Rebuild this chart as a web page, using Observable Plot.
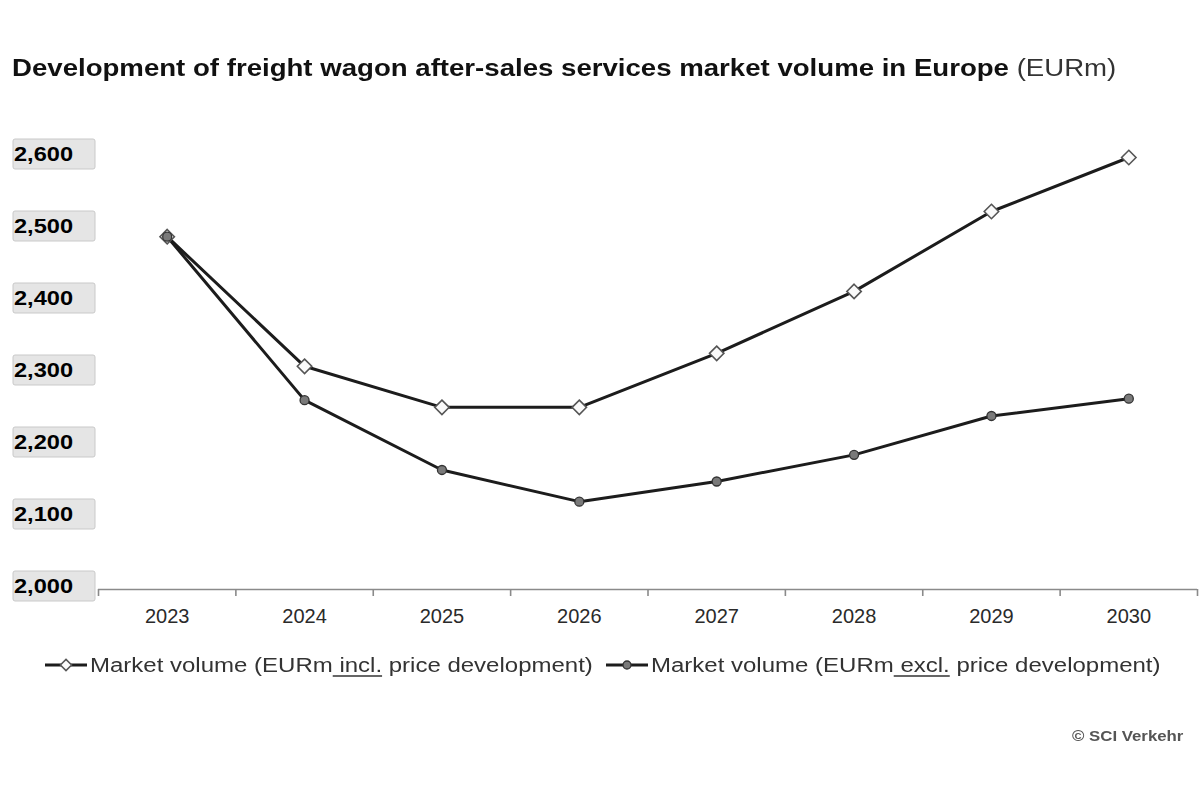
<!DOCTYPE html>
<html>
<head>
<meta charset="utf-8">
<script src="https://cdn.jsdelivr.net/npm/d3@7"></script>
<script src="https://cdn.jsdelivr.net/npm/@observablehq/plot@0.6"></script>
<style>
  html, body { margin: 0; padding: 0; background: #fff; }
  #page { position: relative; width: 1200px; height: 800px; overflow: hidden; font-family: "Liberation Sans", Arial, Helvetica, sans-serif; }
  #title { position: absolute; left: 12px; top: 55px; font-size: 23px; line-height: 26px; color: #111; white-space: nowrap; transform: scaleX(1.2); transform-origin: 0 50%; }
  #title b { font-weight: bold; }
  #title span { font-weight: normal; color: #333; }
  #chart { position: absolute; left: 0; top: 100px; }
  .legend-item { position: absolute; top: 652px; height: 26px; display: flex; align-items: center; font-size: 20px; color: #333; white-space: nowrap; }
  .legend-item .lab { display: inline-block; transform: scaleX(1.2); transform-origin: 0 50%; }
  .legend-item u { text-decoration-color: #666; text-decoration-thickness: 2px; text-underline-offset: 3px; }
  #footer { position: absolute; left: 1072px; top: 727px; font-size: 15px; color: #555; font-weight: bold; white-space: nowrap; transform: scaleX(1.12); transform-origin: 0 50%; filter: blur(0.4px); }
</style>
</head>
<body>
<div id="page">
  <div id="title"><b>Development of freight wagon after-sales services market volume in Europe</b> <span>(EURm)</span></div>
  <div id="chart"></div>
  <div class="legend-item" id="leg1" style="left:44px"></div>
  <div class="legend-item" id="leg2" style="left:605px"></div>
  <div id="footer">© SCI Verkehr</div>
</div>
<script>
// Years on the horizontal axis
const years = [2023, 2024, 2025, 2026, 2027, 2028, 2029, 2030];
// Market volume including price development (EURm)
const inclValues = [2490, 2310, 2253, 2253, 2328, 2414, 2525, 2600];
// Market volume excluding price development (EURm)
const exclValues = [2490, 2263, 2166, 2122, 2150, 2187, 2241, 2265];
// Value axis ticks
const yTicks = [2000, 2100, 2200, 2300, 2400, 2500, 2600];

const incl = years.map((year, i) => ({year, value: inclValues[i]}));
const excl = years.map((year, i) => ({year, value: exclValues[i]}));
// Category boundaries: the axis ticks sit between the years
const boundaries = [years[0] - 0.5, ...years.map(y => y + 0.5)];

const lineColor = "#1c1c1c";

// Boxed labels for the value axis, placed with the y scale
function yLabelBoxes(index, scales) {
  const g = d3.create("svg:g");
  for (const v of yTicks) {
    const cy = scales.y(v) - 3;
    g.append("rect")
      .attr("x", 13).attr("y", cy - 15).attr("width", 82).attr("height", 30)
      .attr("rx", 2)
      .attr("fill", "#e5e5e5").attr("stroke", "#c9c9c9").attr("stroke-width", 1);
    g.append("text")
      .attr("transform", `translate(14,${cy}) scale(1.18,1)`)
      .attr("dy", "0.36em")
      .attr("text-anchor", "start")
      .attr("font-size", 20).attr("font-weight", "bold")
      .attr("fill", "#000")
      .text(d3.format(",")(v));
  }
  return g.node();
}

const chart = Plot.plot({
  width: 1200,
  height: 540,
  marginLeft: 98,
  marginRight: 3,
  marginTop: 57,
  marginBottom: 51,
  style: {fontFamily: "Liberation Sans, Arial, sans-serif", background: "transparent", overflow: "visible"},
  x: {domain: [years[0] - 0.5, years[years.length - 1] + 0.5], axis: null},
  y: {domain: [2000, 2600], axis: null},
  marks: [
    Plot.ruleY([2000], {stroke: "#8a8a8a", strokeWidth: 1.6}),
    Plot.axisX(boundaries, {tickSize: 7, tickFormat: () => "", label: null, stroke: "#8a8a8a", strokeWidth: 1.6}),
    Plot.axisX(years, {tickSize: 0, tickPadding: 19, tickFormat: d => String(d), label: null, fontSize: 20, fill: "#2a2a2a", letterSpacing: "1.6px"}),
    yLabelBoxes,
    Plot.line(incl, {x: "year", y: "value", stroke: lineColor, strokeWidth: 3}),
    Plot.line(excl, {x: "year", y: "value", stroke: lineColor, strokeWidth: 3}),
    Plot.dot(incl, {x: "year", y: "value", symbol: "diamond2", r: 6.5, fill: "#fafafa", stroke: "#555", strokeWidth: 1.6}),
    Plot.dot(excl, {x: "year", y: "value", symbol: "circle", r: 4.5, fill: "#7a7a7a", stroke: "#333", strokeWidth: 1.3})
  ]
});
document.getElementById("chart").appendChild(chart);

// Legend entries: a short line with the series marker, then the label
function legendSymbol(kind) {
  const svg = d3.create("svg").attr("width", 44).attr("height", 16).style("margin-right", "2px");
  svg.append("line").attr("x1", 1).attr("x2", 43).attr("y1", 8).attr("y2", 8)
    .attr("stroke", lineColor).attr("stroke-width", 3);
  if (kind === "diamond") {
    svg.append("path").attr("d", d3.symbol(d3.symbolDiamond2, 80)()).attr("transform", "translate(22,8)")
      .attr("fill", "#fafafa").attr("stroke", "#555").attr("stroke-width", 1.5);
  } else {
    svg.append("circle").attr("cx", 22).attr("cy", 8).attr("r", 4)
      .attr("fill", "#7a7a7a").attr("stroke", "#333").attr("stroke-width", 1.3);
  }
  return svg.node();
}
const leg1 = document.getElementById("leg1");
leg1.appendChild(legendSymbol("diamond"));
leg1.insertAdjacentHTML("beforeend", "<span class='lab'>Market volume (EURm<u> incl.</u> price development)</span>");
const leg2 = document.getElementById("leg2");
leg2.appendChild(legendSymbol("circle"));
leg2.insertAdjacentHTML("beforeend", "<span class='lab'>Market volume (EURm<u> excl.</u> price development)</span>");
</script>
</body>
</html>
